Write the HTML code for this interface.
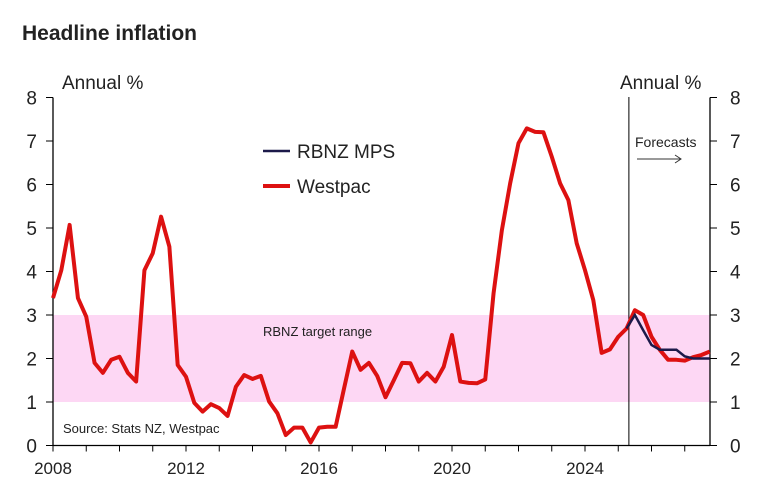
<!DOCTYPE html>
<html><head><meta charset="utf-8"><style>
body{margin:0;background:#fff;}
svg{display:block;font-family:"Liberation Sans",sans-serif;}
</style></head><body>
<svg id="chart" width="761" height="499">
<text x="22" y="40" font-size="21" font-weight="bold" fill="#222">Headline inflation</text>
<g id="g"></g>
</svg>
<script>
const westpacValues=[3.39,4.03,5.07,3.39,2.96,1.9,1.67,1.97,2.04,1.67,1.47,4.03,4.42,5.26,4.57,1.85,1.58,0.98,0.78,0.95,0.86,0.68,1.35,1.62,1.53,1.6,1.01,0.74,0.24,0.41,0.41,0.07,0.41,0.43,0.43,1.3,2.16,1.74,1.9,1.6,1.11,1.5,1.9,1.89,1.47,1.67,1.47,1.81,2.54,1.47,1.44,1.43,1.52,3.5,4.95,6.03,6.95,7.29,7.21,7.2,6.64,6.03,5.64,4.65,4.03,3.34,2.13,2.21,2.5,2.69,3.11,3.0,2.5,2.2,1.97,1.97,1.95,2.03,2.08,2.16];
const mpsStart=69;
const mpsValues=[2.69,3.0,2.65,2.31,2.2,2.2,2.2,2.05,2.0,2.0,2.0];
const yTicks=[0,1,2,3,4,5,6,7,8];
const xTickLabels=[2008,2012,2016,2020,2024];
const bandLow=1,bandHigh=3,forecastStart=2025.32;
const X0=53,X1=710,Y0=445.5,YK=43.5,YRS=33.25;
const xYear=y=>X0+(y-2008)*YRS;
const xQ=i=>X0+i*YRS/4;
const yV=v=>Y0-v*YK;
const NS='http://www.w3.org/2000/svg',g=document.getElementById('g');
function mk(t,a,txt){const e=document.createElementNS(NS,t);for(const k in a)e.setAttribute(k,a[k]);if(txt!=null)e.textContent=txt;g.appendChild(e);return e;}
let e;
e=mk('rect',{x:X0,y:yV(bandHigh),width:X1-X0,height:yV(bandLow)-yV(bandHigh),fill:'#fdd7f4'});


e=mk('text',{x:263,y:336,'font-size':13,fill:'#222'},'RBNZ target range');


e=mk('text',{x:63,y:433,'font-size':13,fill:'#222'},'Source: Stats NZ, Westpac');


// axes
e=mk('line',{x1:X0,y1:yV(8),x2:X0,y2:Y0,stroke:'#000','stroke-width':1.3});


e=mk('line',{x1:X1,y1:yV(8),x2:X1,y2:Y0,stroke:'#000','stroke-width':1.3});


e=mk('line',{x1:X0,y1:Y0,x2:X1,y2:Y0,stroke:'#000','stroke-width':1.3});


yTicks.forEach(v=>{
 mk('line',{x1:X0-7,y1:yV(v),x2:X0,y2:yV(v),stroke:'#000'});
 mk('line',{x1:X1,y1:yV(v),x2:X1+7,y2:yV(v),stroke:'#000'});
 e=mk('text',{x:37,y:yV(v)+7,'font-size':19,'text-anchor':'end',fill:'#222'},v);
 
 
 e=mk('text',{x:730,y:yV(v)+7,'font-size':19,fill:'#222'},v);
 
 
});
for(let y=2008;y<=2027;y++)mk('line',{x1:xYear(y),y1:Y0,x2:xYear(y),y2:Y0+6,stroke:'#000'});
xTickLabels.forEach(y=>{
 e=mk('text',{x:xYear(y),y:474,'font-size':17,'text-anchor':'middle',fill:'#222'},y);
 
 
});
e=mk('text',{x:62,y:89,'font-size':19,fill:'#222'},'Annual %');


e=mk('text',{x:620,y:89,'font-size':19,fill:'#222'},'Annual %');


const fx=xYear(forecastStart);
e=mk('line',{x1:fx,y1:97,x2:fx,y2:Y0,stroke:'#000','stroke-width':1});


e=mk('text',{x:635,y:147,'font-size':14,fill:'#222'},'Forecasts');


e=mk('path',{d:'M637 159H681M675 155L681 159L675 163',stroke:'#333',fill:'none','stroke-width':1});


// series
e=mk('polyline',{points:westpacValues.map((v,i)=>xQ(i)+','+yV(v)).join(' '),fill:'none',stroke:'#dd1111','stroke-width':4,'stroke-linejoin':'round'});


e=mk('polyline',{points:mpsValues.map((v,i)=>xQ(i+mpsStart)+','+yV(v)).join(' '),fill:'none',stroke:'#1c1a4a','stroke-width':2.5});


// legend
e=mk('line',{x1:263,y1:151,x2:290,y2:151,stroke:'#1c1a4a','stroke-width':2.5});


e=mk('text',{x:297,y:158,'font-size':19,fill:'#222'},'RBNZ MPS');


e=mk('line',{x1:263,y1:186,x2:290,y2:186,stroke:'#dd1111','stroke-width':4});


e=mk('text',{x:297,y:193,'font-size':19,fill:'#222'},'Westpac');


</script>
</body></html>
